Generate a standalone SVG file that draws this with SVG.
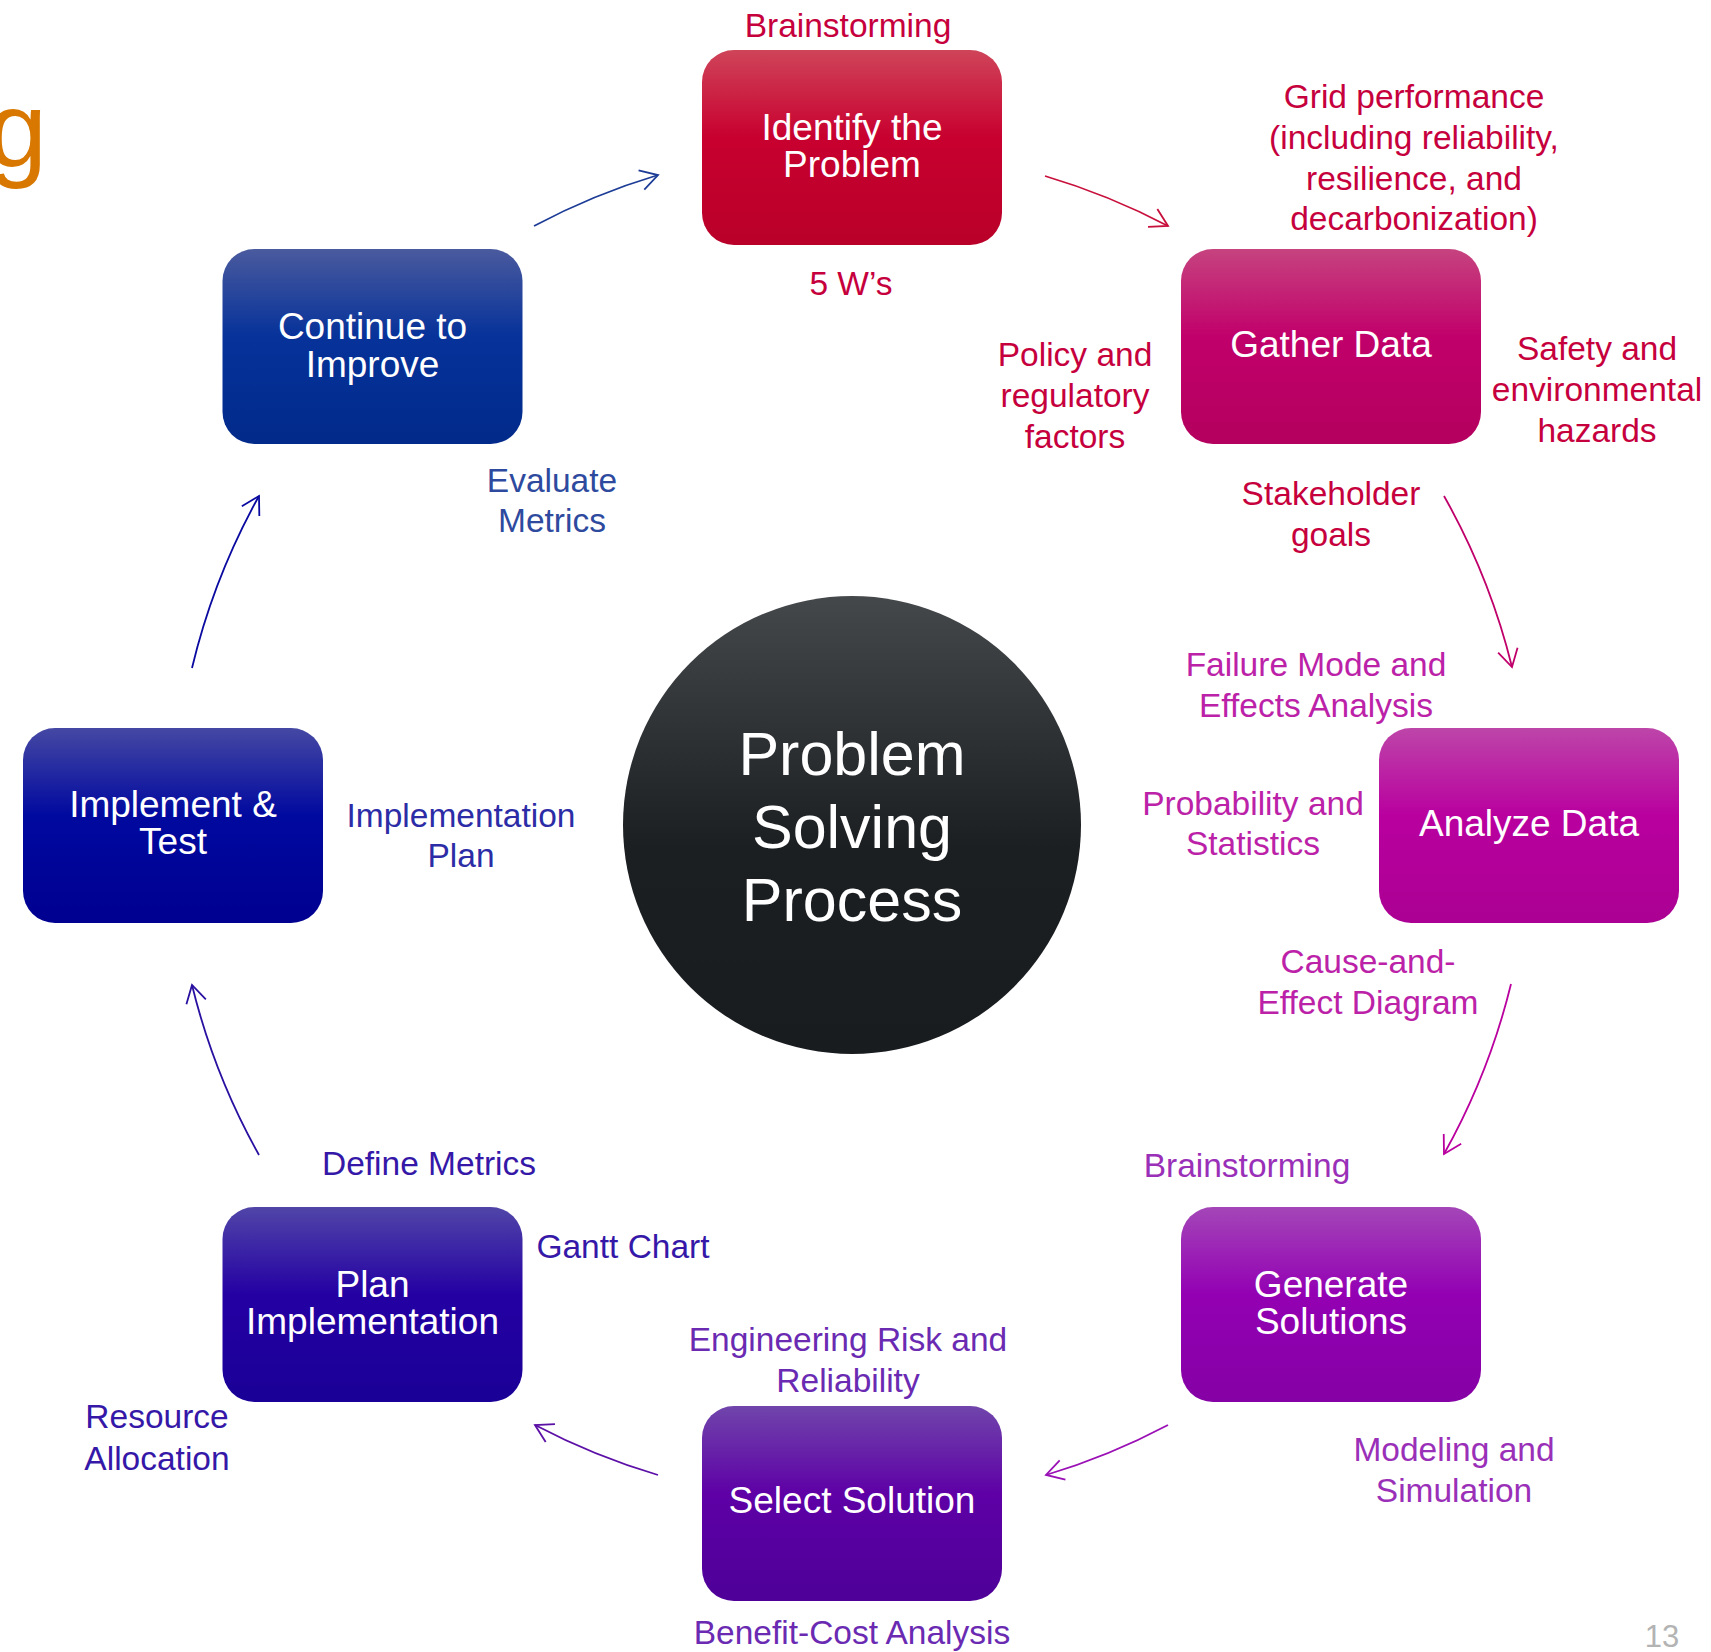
<svg xmlns="http://www.w3.org/2000/svg" width="1711" height="1652" viewBox="0 0 1711 1652">
<defs>
<style>
text{font-family:"Liberation Sans",Arial,sans-serif}
.bt{fill:#fff;font-size:37px;text-anchor:middle}
.ct{fill:#fff;font-size:61px;text-anchor:middle}
.lb{font-size:33.5px;text-anchor:middle}
.red{fill:#c6003d}
.mag{fill:#bb22a8}
.pur{fill:#9a30b8}
.vio{fill:#6a2ab2}
.ind{fill:#3518a8}
.nav{fill:#2c2ca6}
.blu{fill:#2e4a9e}
.cn{fill:none;stroke-width:1.8}
.ah{fill:none;stroke-width:1.8;stroke-linejoin:miter}
</style>
<linearGradient id="gCirc" x1="0" y1="0" x2="0" y2="1"><stop offset="0" stop-color="#45484b"/><stop offset="0.55" stop-color="#1c1f22"/><stop offset="1" stop-color="#191c1f"/></linearGradient>
<linearGradient id="gId" x1="0" y1="0" x2="0" y2="1"><stop offset="0" stop-color="#cf4459"/><stop offset="0.45" stop-color="#c8002f"/><stop offset="1" stop-color="#b90029"/></linearGradient>
<linearGradient id="gGa" x1="0" y1="0" x2="0" y2="1"><stop offset="0" stop-color="#c6437f"/><stop offset="0.45" stop-color="#c1006b"/><stop offset="1" stop-color="#b4005e"/></linearGradient>
<linearGradient id="gAn" x1="0" y1="0" x2="0" y2="1"><stop offset="0" stop-color="#bd45a9"/><stop offset="0.45" stop-color="#b9009f"/><stop offset="1" stop-color="#ab0093"/></linearGradient>
<linearGradient id="gGe" x1="0" y1="0" x2="0" y2="1"><stop offset="0" stop-color="#a446b8"/><stop offset="0.45" stop-color="#9300b3"/><stop offset="1" stop-color="#8500a5"/></linearGradient>
<linearGradient id="gSe" x1="0" y1="0" x2="0" y2="1"><stop offset="0" stop-color="#7045ab"/><stop offset="0.45" stop-color="#5e00a6"/><stop offset="1" stop-color="#4e0098"/></linearGradient>
<linearGradient id="gPl" x1="0" y1="0" x2="0" y2="1"><stop offset="0" stop-color="#5045a8"/><stop offset="0.45" stop-color="#2400a3"/><stop offset="1" stop-color="#1a0096"/></linearGradient>
<linearGradient id="gIm" x1="0" y1="0" x2="0" y2="1"><stop offset="0" stop-color="#4548a3"/><stop offset="0.45" stop-color="#00099f"/><stop offset="1" stop-color="#000090"/></linearGradient>
<linearGradient id="gCo" x1="0" y1="0" x2="0" y2="1"><stop offset="0" stop-color="#4a5a9e"/><stop offset="0.45" stop-color="#06329a"/><stop offset="1" stop-color="#012a8a"/></linearGradient>
<marker id="m1" markerUnits="userSpaceOnUse" markerWidth="30" markerHeight="30" viewBox="-22 -15 26 30" refX="0" refY="0" orient="auto"><path class="ah" stroke="#1c3c96" d="M-17.3 -10 L0 0 L-17.3 10"/></marker>
<marker id="m2" markerUnits="userSpaceOnUse" markerWidth="30" markerHeight="30" viewBox="-22 -15 26 30" refX="0" refY="0" orient="auto"><path class="ah" stroke="#c8103c" d="M-17.3 -10 L0 0 L-17.3 10"/></marker>
<marker id="m3" markerUnits="userSpaceOnUse" markerWidth="30" markerHeight="30" viewBox="-22 -15 26 30" refX="0" refY="0" orient="auto"><path class="ah" stroke="#c0006a" d="M-17.3 -10 L0 0 L-17.3 10"/></marker>
<marker id="m4" markerUnits="userSpaceOnUse" markerWidth="30" markerHeight="30" viewBox="-22 -15 26 30" refX="0" refY="0" orient="auto"><path class="ah" stroke="#b9009f" d="M-17.3 -10 L0 0 L-17.3 10"/></marker>
<marker id="m5" markerUnits="userSpaceOnUse" markerWidth="30" markerHeight="30" viewBox="-22 -15 26 30" refX="0" refY="0" orient="auto"><path class="ah" stroke="#9a10b5" d="M-17.3 -10 L0 0 L-17.3 10"/></marker>
<marker id="m6" markerUnits="userSpaceOnUse" markerWidth="30" markerHeight="30" viewBox="-22 -15 26 30" refX="0" refY="0" orient="auto"><path class="ah" stroke="#5c10a6" d="M-17.3 -10 L0 0 L-17.3 10"/></marker>
<marker id="m7" markerUnits="userSpaceOnUse" markerWidth="30" markerHeight="30" viewBox="-22 -15 26 30" refX="0" refY="0" orient="auto"><path class="ah" stroke="#2a10a0" d="M-17.3 -10 L0 0 L-17.3 10"/></marker>
<marker id="m8" markerUnits="userSpaceOnUse" markerWidth="30" markerHeight="30" viewBox="-22 -15 26 30" refX="0" refY="0" orient="auto"><path class="ah" stroke="#0a0aa0" d="M-17.3 -10 L0 0 L-17.3 10"/></marker>
</defs>
<rect width="1711" height="1652" fill="#fff"/>
<text x="47" y="167" font-size="107" text-anchor="end" fill="#d87800">g</text>
<text x="1662" y="1647" font-size="31" text-anchor="middle" fill="#b3b3b3">13</text>

<g id="connectors">
<path class="cn" stroke="#1c3c96" marker-end="url(#m1)" d="M534 226 A678 678 0 0 1 658 175"/>
<path class="cn" stroke="#c8103c" marker-end="url(#m2)" d="M1045 176 A678 678 0 0 1 1168 226"/>
<path class="cn" stroke="#c0006a" marker-end="url(#m3)" d="M1444 496 A678 678 0 0 1 1512 667"/>
<path class="cn" stroke="#b9009f" marker-end="url(#m4)" d="M1511 984 A678 678 0 0 1 1444 1154"/>
<path class="cn" stroke="#9a10b5" marker-end="url(#m5)" d="M1168 1425 A678 678 0 0 1 1046 1475"/>
<path class="cn" stroke="#5c10a6" marker-end="url(#m6)" d="M658 1475 A678 678 0 0 1 535 1425"/>
<path class="cn" stroke="#2a10a0" marker-end="url(#m7)" d="M259 1155 A678 678 0 0 1 192 985"/>
<path class="cn" stroke="#0a0aa0" marker-end="url(#m8)" d="M192 668 A678 678 0 0 1 259 496"/>
</g>

<g id="center">
<circle cx="852" cy="825" r="229" fill="url(#gCirc)"/>
<text class="ct" x="852" y="775">Problem</text>
<text class="ct" x="852" y="848">Solving</text>
<text class="ct" x="852" y="921">Process</text>
</g>

<g id="identify">
<rect x="702" y="50" width="300" height="195" rx="32" fill="url(#gId)"/>
<text class="bt" x="852" y="140">Identify the</text>
<text class="bt" x="852" y="177">Problem</text>
<text class="lb red" x="848" y="37">Brainstorming</text>
<text class="lb red" x="851" y="295">5 W’s</text>
</g>

<g id="gather">
<rect x="1181" y="249" width="300" height="195" rx="32" fill="url(#gGa)"/>
<text class="bt" x="1331" y="357">Gather Data</text>
<text class="lb red" x="1414" y="108">Grid performance</text>
<text class="lb red" x="1414" y="149">(including reliability,</text>
<text class="lb red" x="1414" y="189.5">resilience, and</text>
<text class="lb red" x="1414" y="230">decarbonization)</text>
<text class="lb red" x="1075" y="366">Policy and</text>
<text class="lb red" x="1075" y="407">regulatory</text>
<text class="lb red" x="1075" y="448">factors</text>
<text class="lb red" x="1597" y="360">Safety and</text>
<text class="lb red" x="1597" y="401">environmental</text>
<text class="lb red" x="1597" y="442">hazards</text>
<text class="lb red" x="1331" y="505">Stakeholder</text>
<text class="lb red" x="1331" y="546">goals</text>
</g>

<g id="analyze">
<rect x="1379" y="728" width="300" height="195" rx="32" fill="url(#gAn)"/>
<text class="bt" x="1529" y="836">Analyze Data</text>
<text class="lb mag" x="1316" y="676">Failure Mode and</text>
<text class="lb mag" x="1316" y="717">Effects Analysis</text>
<text class="lb mag" x="1253" y="815">Probability and</text>
<text class="lb mag" x="1253" y="855">Statistics</text>
<text class="lb mag" x="1368" y="973">Cause-and-</text>
<text class="lb mag" x="1368" y="1014">Effect Diagram</text>
</g>

<g id="generate">
<rect x="1181" y="1207" width="300" height="195" rx="32" fill="url(#gGe)"/>
<text class="bt" x="1331" y="1297">Generate</text>
<text class="bt" x="1331" y="1334">Solutions</text>
<text class="lb pur" x="1247" y="1177">Brainstorming</text>
<text class="lb pur" x="1454" y="1461">Modeling and</text>
<text class="lb pur" x="1454" y="1502">Simulation</text>
</g>

<g id="select">
<rect x="702" y="1406" width="300" height="195" rx="32" fill="url(#gSe)"/>
<text class="bt" x="852" y="1513">Select Solution</text>
<text class="lb vio" x="848" y="1351">Engineering Risk and</text>
<text class="lb vio" x="848" y="1392">Reliability</text>
<text class="lb vio" x="852" y="1644">Benefit-Cost Analysis</text>
</g>

<g id="plan">
<rect x="222.5" y="1207" width="300" height="195" rx="32" fill="url(#gPl)"/>
<text class="bt" x="372.5" y="1297">Plan</text>
<text class="bt" x="372.5" y="1334">Implementation</text>
<text class="lb ind" x="429" y="1175">Define Metrics</text>
<text class="lb ind" x="623" y="1258">Gantt Chart</text>
<text class="lb ind" x="157" y="1428">Resource</text>
<text class="lb ind" x="157" y="1470">Allocation</text>
</g>

<g id="implement">
<rect x="23" y="728" width="300" height="195" rx="32" fill="url(#gIm)"/>
<text class="bt" x="173" y="817">Implement &amp;</text>
<text class="bt" x="173" y="854">Test</text>
<text class="lb nav" x="461" y="827">Implementation</text>
<text class="lb nav" x="461" y="867">Plan</text>
</g>

<g id="continue">
<rect x="222.5" y="249" width="300" height="195" rx="32" fill="url(#gCo)"/>
<text class="bt" x="372.5" y="339">Continue to</text>
<text class="bt" x="372.5" y="377">Improve</text>
<text class="lb blu" x="552" y="492">Evaluate</text>
<text class="lb blu" x="552" y="532">Metrics</text>
</g>
</svg>
